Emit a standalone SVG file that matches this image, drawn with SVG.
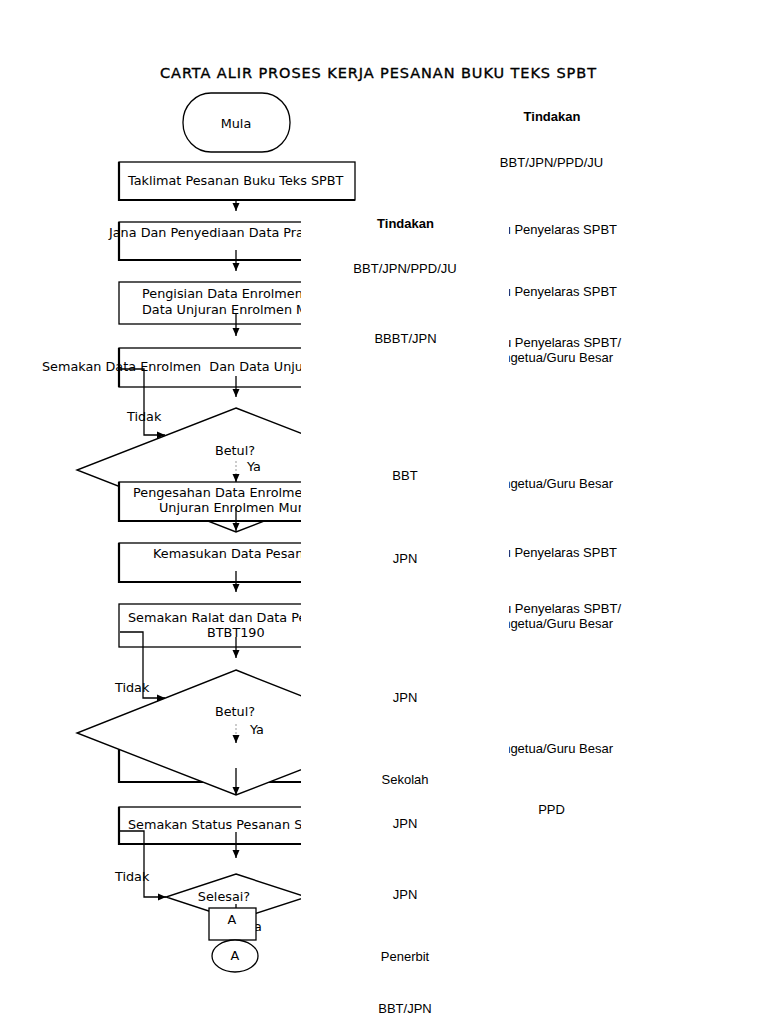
<svg xmlns="http://www.w3.org/2000/svg" width="768" height="1024" viewBox="0 0 768 1024">
<style>
.fc{font-family:"DejaVu Sans",Verdana,sans-serif;font-size:12.8px;fill:#000}
.ttl{font-family:"DejaVu Sans",Verdana,sans-serif;font-size:14.5px;fill:#000;stroke:#000;stroke-width:0.35}
.rc{font-family:"Liberation Sans",Arial,sans-serif;font-size:13px;fill:#000}
.b{font-weight:bold}
.box{fill:#fff;stroke:#000;stroke-width:1.3}
.edge{fill:none;stroke:#000;stroke-width:2.2}
.dia{fill:#fff;stroke:#000;stroke-width:1.4}
.ln{fill:none;stroke:#000;stroke-width:1.3}
.dot{fill:none;stroke:#999;stroke-width:1;stroke-dasharray:2,2}
</style>
<defs>
<marker id="ah" viewBox="0 0 8 8" refX="8" refY="4" markerWidth="8" markerHeight="8" markerUnits="userSpaceOnUse" orient="auto">
<path d="M0,0.5 L8,4 L0,7.5 Z" fill="#000"/>
</marker>
<clipPath id="clipL"><rect x="0" y="200" width="301" height="824"/></clipPath>
<clipPath id="clipR"><rect x="509" y="0" width="259" height="1024"/></clipPath>
</defs>
<rect width="768" height="1024" fill="#fff"/>

<text class="ttl" x="160" y="78" textLength="436" lengthAdjust="spacing">CARTA ALIR PROSES KERJA PESANAN BUKU TEKS SPBT</text>

<g id="mula">
<rect x="183" y="93" width="107" height="59" rx="28" ry="29" class="box"/>
<text class="fc" x="236" y="128" text-anchor="middle">Mula</text>
</g>
<g id="taklimat">
<rect x="119" y="162" width="236" height="38" class="box"/>
<path d="M119,162 V200 H355" class="edge"/>
<text class="fc" x="128" y="185">Taklimat Pesanan Buku Teks SPBT</text>
</g>

<g clip-path="url(#clipL)">
<g id="jana">
<rect x="119" y="222" width="240" height="38" class="box"/>
<path d="M119,222 V260 H359" class="edge"/>
<text class="fc" x="109" y="237">Jana Dan Penyediaan Data Pra</text>
</g>
<g id="pengisian">
<rect x="119" y="282" width="240" height="42" class="box"/>
<text class="fc" x="142" y="298">Pengisian Data Enrolmen</text>
<text class="fc" x="142" y="314">Data Unjuran Enrolmen M</text>
</g>
<g id="semakan1">
<rect x="119" y="348" width="240" height="39" class="box"/>
<path d="M119,348 V387" class="edge"/>
<text class="fc" x="42" y="371" xml:space="preserve">Semakan Data Enrolmen  Dan Data Unju</text>
</g>
<g id="betul1">
<polygon points="236,408 395,470 236,532 77,470" class="dia"/>
<text class="fc" x="235" y="455" text-anchor="middle">Betul?</text>
</g>
<g id="pengesahan">
<rect x="119" y="482" width="240" height="39" class="box"/>
<path d="M119,482 V521 H359" class="edge"/>
<text class="fc" x="133" y="497">Pengesahan Data Enrolme</text>
<text class="fc" x="159" y="512">Unjuran Enrolmen Mur</text>
</g>
<g id="kemasukan">
<rect x="119" y="543" width="240" height="39" class="box"/>
<path d="M119,543 V582 H359" class="edge"/>
<text class="fc" x="153" y="558">Kemasukan Data Pesan</text>
</g>
<g id="semakan2">
<rect x="119" y="604" width="240" height="43" class="box"/>
<text class="fc" x="128" y="622">Semakan Ralat dan Data Pe</text>
<text class="fc" x="207" y="637">BTBT190</text>
</g>
<g id="box8">
<rect x="119" y="746" width="240" height="36" class="box"/>
<path d="M119,746 V782 H359" class="edge"/>
</g>
<g id="betul2">
<polygon points="236,670 395,733 236,795 77,733" class="dia"/>
<text class="fc" x="235" y="716" text-anchor="middle">Betul?</text>
</g>
<g id="semakan3">
<rect x="119" y="807" width="240" height="37" class="box"/>
<path d="M119,807 V844 H359" class="edge"/>
<text class="fc" x="128" y="829">Semakan Status Pesanan S</text>
</g>
<g id="selesai">
<polygon points="236,874 306,897 236,920 166,897" class="dia"/>
<text class="fc" x="224" y="901" text-anchor="middle">Selesai?</text>
<text class="fc" x="248" y="931">Ya</text>
</g>

<g id="connectors">
<line x1="236" y1="128" x2="236" y2="152" class="ln" marker-end="url(#ah)"/>
<line x1="236" y1="190" x2="236" y2="211" class="ln" marker-end="url(#ah)"/>
<line x1="236" y1="250" x2="236" y2="271" class="ln" marker-end="url(#ah)"/>
<line x1="236" y1="314" x2="236" y2="336" class="ln" marker-end="url(#ah)"/>
<line x1="236" y1="376" x2="236" y2="397" class="ln" marker-end="url(#ah)"/>
<polyline points="120,369 144,369 144,435 165,435" class="ln" marker-end="url(#ah)"/>
<text class="fc" x="127" y="421">Tidak</text>
<line x1="236" y1="461" x2="236" y2="476" class="dot"/>
<line x1="236" y1="475" x2="236" y2="482" class="ln" marker-end="url(#ah)"/>
<text class="fc" x="247" y="471">Ya</text>
<line x1="236" y1="507" x2="236" y2="531" class="ln" marker-end="url(#ah)"/>
<line x1="236" y1="571" x2="236" y2="592" class="ln" marker-end="url(#ah)"/>
<line x1="236" y1="637" x2="236" y2="658" class="ln" marker-end="url(#ah)"/>
<polyline points="120,632 143,632 143,698 165,698" class="ln" marker-end="url(#ah)"/>
<text class="fc" x="115" y="692">Tidak</text>
<line x1="236" y1="724" x2="236" y2="737" class="dot"/>
<line x1="236" y1="736" x2="236" y2="743" class="ln" marker-end="url(#ah)"/>
<text class="fc" x="250" y="734">Ya</text>
<line x1="236" y1="768" x2="236" y2="795" class="ln" marker-end="url(#ah)"/>
<line x1="236" y1="832" x2="236" y2="858" class="ln" marker-end="url(#ah)"/>
<polyline points="120,831 144,831 144,897 166,897" class="ln" marker-end="url(#ah)"/>
<text class="fc" x="115" y="881">Tidak</text>
<line x1="236" y1="904" x2="236" y2="910" class="ln"/>
</g>
</g>

<g id="connA-box">
<rect x="209" y="908" width="47" height="32" class="box"/>
<text class="fc" x="232" y="924" text-anchor="middle">A</text>
</g>
<g id="connA-circle">
<ellipse cx="235" cy="956" rx="23" ry="16" class="box"/>
<text class="fc" x="235" y="960" text-anchor="middle">A</text>
</g>

<g id="tindakan">
<text class="rc b" x="552" y="121" text-anchor="middle">Tindakan</text>
<text class="rc" x="551.5" y="167" text-anchor="middle">BBT/JPN/PPD/JU</text>
<text class="rc b" x="405.5" y="228" text-anchor="middle">Tindakan</text>
<text class="rc" x="405" y="273" text-anchor="middle">BBT/JPN/PPD/JU</text>
<text class="rc" x="405.5" y="343" text-anchor="middle">BBBT/JPN</text>
<text class="rc" x="405" y="480" text-anchor="middle">BBT</text>
<text class="rc" x="405" y="563" text-anchor="middle">JPN</text>
<text class="rc" x="405" y="702" text-anchor="middle">JPN</text>
<text class="rc" x="405" y="784" text-anchor="middle">Sekolah</text>
<text class="rc" x="551.5" y="814" text-anchor="middle">PPD</text>
<text class="rc" x="405" y="828" text-anchor="middle">JPN</text>
<text class="rc" x="405" y="899" text-anchor="middle">JPN</text>
<text class="rc" x="405" y="961" text-anchor="middle">Penerbit</text>
<text class="rc" x="405" y="1013" text-anchor="middle">BBT/JPN</text>
<g clip-path="url(#clipR)">
<text class="rc" x="617" y="234" text-anchor="end">Guru Penyelaras SPBT</text>
<text class="rc" x="617" y="296" text-anchor="end">Guru Penyelaras SPBT</text>
<text class="rc" x="621" y="347" text-anchor="end">Guru Penyelaras SPBT/</text>
<text class="rc" x="613" y="362" text-anchor="end">Pengetua/Guru Besar</text>
<text class="rc" x="613" y="488" text-anchor="end">Pengetua/Guru Besar</text>
<text class="rc" x="617" y="557" text-anchor="end">Guru Penyelaras SPBT</text>
<text class="rc" x="621" y="613" text-anchor="end">Guru Penyelaras SPBT/</text>
<text class="rc" x="613" y="628" text-anchor="end">Pengetua/Guru Besar</text>
<text class="rc" x="613" y="753" text-anchor="end">Pengetua/Guru Besar</text>
</g>
</g>
</svg>
